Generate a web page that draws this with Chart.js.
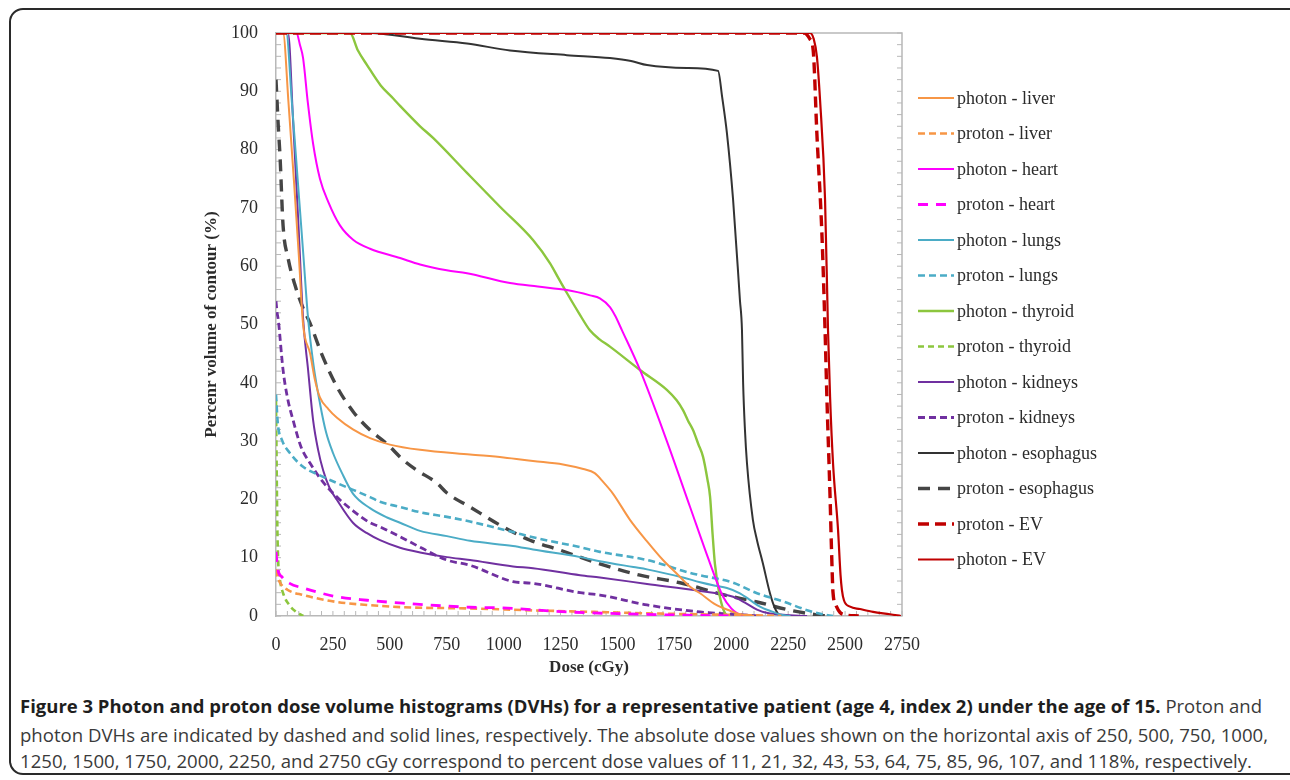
<!DOCTYPE html>
<html>
<head>
<meta charset="utf-8">
<script src="https://cdn.jsdelivr.net/npm/chart.js@4.4.1/dist/chart.umd.min.js"></script>
<style>
body { margin: 0; background: #fff; width: 1290px; height: 780px; overflow: hidden; position: relative; }
#frame { position: absolute; left: 9px; top: 8px; width: 1310px; height: 763px; border: 2px solid #2a2a2a; border-radius: 14px; }
#wrap { position: absolute; left: 0; top: 0; width: 1290px; height: 690px; }
.cap { position: absolute; left: 20px; font-family: 'Open Sans'; font-size: 17.5px; line-height: 24px; color: #3a3a3a; white-space: nowrap; transform-origin: 0 50%; }
.cap b { color: #1e1e1e; }
</style>
</head>
<body>
<div id="frame"></div>
<div id="wrap"><canvas id="dvh" width="1290" height="690"></canvas></div>
<div class="cap" style="top:694px" data-w="1242"><b>Figure 3 Photon and proton dose volume histograms (DVHs) for a representative patient (age 4, index 2) under the age of 15.</b> Proton and</div>
<div class="cap" style="top:723px" data-w="1248">photon DVHs are indicated by dashed and solid lines, respectively. The absolute dose values shown on the horizontal axis of 250, 500, 750, 1000,</div>
<div class="cap" style="top:749px" data-w="1232">1250, 1500, 1750, 2000, 2250, and 2750 cGy correspond to percent dose values of 11, 21, 32, 43, 53, 64, 75, 85, 96, 107, and 118%, respectively.</div>
<script>
// [dose cGy, percent volume]
const photonLiver = [[0,100],[31,100],[55,88],[80,74],[100,62],[119,50],[150,45],[171,40.5],[193,37.5],[230,35.5],[268,34],[338,32],[413,30.5],[500,29.4],[633,28.5],[852,27.7],[1000,27.2],[1129,26.6],[1261,26],[1350,25.2],[1400,24.5],[1437,23],[1480,21],[1555,16.5],[1630,12.8],[1700,9.6],[1760,7.3],[1819,5],[1863,3.9],[1930,2],[1995,0.9],[2040,0.3],[2100,0]];
const protonLiver = [[0,8],[5,7],[18,5.7],[50,4.5],[119,3.6],[268,2.4],[400,1.9],[558,1.5],[852,1.3],[1100,1],[1400,0.7],[1700,0.4],[2000,0.2],[2220,0]];
const photonHeart = [[0,100],[90,100],[105,98],[119,95.7],[140,88],[163,81],[193,75],[230,71],[281,67],[340,64.5],[413,63],[545,61.4],[633,60.3],[750,59.3],[839,58.8],[1028,57.1],[1150,56.5],[1278,55.9],[1380,55],[1423,54.5],[1467,53],[1490,51.5],[1520,49],[1599,42.2],[1717,30],[1819,18.7],[1907,9],[1964,3.3],[2000,1.3],[2025,0.5],[2060,0]];
const protonHeart = [[0,11],[8,8],[26,6.7],[60,5.6],[119,4.8],[268,3.3],[400,2.7],[558,2.2],[852,1.5],[984,1.4],[1278,0.7],[1500,0.4],[1717,0.2],[2008,0]];
const photonLungs = [[0,100],[45,100],[70,88],[95,75],[120,62],[141,51],[165,43],[193,36.5],[220,31.5],[250,28],[290,24.5],[338,21],[413,18.5],[488,16.9],[545,16],[633,14.6],[751,13.7],[852,12.9],[1041,12],[1129,11.4],[1336,10.1],[1423,9.4],[1570,8.4],[1630,8],[1788,6.6],[1863,5.8],[1930,5.2],[1981,4.8],[2038,3.9],[2080,2.8],[2126,1.6],[2183,0.7],[2220,0.2],[2260,0]];
const protonLungs = [[0,38],[8,33],[26,30.2],[60,28],[119,25.6],[200,24],[268,22.8],[413,20.4],[457,19.6],[545,18.7],[633,17.8],[751,17],[852,16.2],[1041,14.4],[1129,13.5],[1336,11.8],[1423,11],[1630,9.6],[1819,7.4],[1863,7],[2008,5.7],[2113,3.9],[2227,2.5],[2333,1],[2400,0.3],[2447,0]];
const photonThyroid = [[0,100],[325,100],[360,97],[400,94.5],[460,91],[514,88.8],[545,87.5],[633,84],[690,82],[839,76],[984,70.2],[1129,64.5],[1204,60.5],[1240,58],[1278,55.4],[1330,52],[1379,49],[1420,47.5],[1467,46.2],[1599,42.2],[1717,38.8],[1760,37],[1788,35.3],[1810,33.5],[1832,31.9],[1855,29.5],[1876,27.3],[1895,23.5],[1907,20.4],[1918,14],[1928,9],[1950,3.3],[1972,0.5],[1990,0]];
const protonThyroid = [[0,37],[3,25],[6,15],[10,9],[18,6],[35,3.5],[60,1.8],[85,0.8],[105,0.3],[120,0]];
const photonKidneys = [[0,100],[53,100],[75,85],[100,66],[119,51],[141,42.2],[163,33.6],[185,28.5],[207,25],[235,22],[268,19.9],[338,16],[400,14.2],[457,13],[545,11.7],[633,10.9],[751,10.1],[852,9.6],[1041,8.5],[1129,8.2],[1336,7],[1423,6.6],[1630,5.5],[1863,4.3],[2008,3.3],[2060,2.3],[2113,1.1],[2160,0.5],[2227,0.2],[2333,0]];
const protonKidneys = [[0,54],[5,52],[10,50.8],[31,42.2],[50,37.5],[75,33.6],[110,29],[150,26.2],[200,23.3],[268,20.4],[340,18],[413,16],[457,15.3],[545,13.6],[633,11.8],[751,9.6],[852,8.7],[1041,5.9],[1129,5.6],[1336,4],[1423,3.6],[1630,1.9],[1863,0.7],[2008,0.3],[2126,0]];
const photonEsophagus = [[0,100],[420,100],[480,99.8],[545,99.5],[633,99],[839,98.2],[1028,97],[1278,96.2],[1467,95.7],[1560,95.2],[1630,94.5],[1805,94],[1942,93.5],[1960,89],[1981,82.8],[2008,71.4],[2038,54.2],[2047,49],[2052,40],[2060,32],[2069,26.2],[2095,16.5],[2113,13],[2139,9],[2170,3.9],[2190,1.5],[2210,0.2],[2230,0]];
const protonEsophagus = [[0,92],[5,88],[10,84],[18,78.6],[31,67],[53,61.4],[83,56.8],[119,52.8],[150,50.2],[200,45],[268,39.3],[340,35],[413,31.9],[488,29.5],[558,26.8],[619,25],[707,22.8],[751,21.1],[852,18.7],[997,15.3],[1116,13],[1248,11.3],[1410,9.1],[1599,7],[1775,5.7],[1863,4.8],[1950,3.8],[2113,2.4],[2258,1],[2376,0.2],[2420,0]];
const protonEV = [[0,100],[2320,100],[2345,99],[2360,97],[2376,82.8],[2398,65.7],[2412,49],[2420,37.6],[2434,20.4],[2440,11.8],[2447,4],[2460,1.8],[2478,0.6],[2500,0.2],[2560,0]];
const photonEV = [[0,100],[2345,100],[2362,99],[2376,96],[2390,88.5],[2412,71.4],[2425,49],[2434,37.6],[2447,26.2],[2469,14.8],[2480,7],[2486,4.5],[2495,2.7],[2522,1.6],[2565,1.2],[2623,0.7],[2697,0.3],[2745,0]];

const doseTicks = [0, 250, 500, 750, 1000, 1250, 1500, 1750, 2000, 2250, 2500, 2750];
const volumeTicks = [0, 10, 20, 30, 40, 50, 60, 70, 80, 90, 100];

const serif = "'Liberation Serif', 'Times New Roman', serif";
const axisColor = '#b8b8b8';
const textColor = '#2b2b2b';

function serie(label, points, color, dash, width, order) {
    return {
        label: label,
        data: points.map(p => ({ x: p[0], y: p[1] })),
        borderColor: color,
        borderDash: dash,
        borderWidth: width,
        cubicInterpolationMode: 'monotone',
        pointRadius: 0,
        fill: false,
        order: order
    };
}

const datasets = [
    serie('photon - liver', photonLiver, '#F79646', [], 2, 2),
    serie('proton - liver', protonLiver, '#F79646', [7, 4], 2.6, 2),
    serie('photon - heart', photonHeart, '#FF00FF', [], 2, 2),
    serie('proton - heart', protonHeart, '#FF00FF', [10, 8], 2.8, 1),
    serie('photon - lungs', photonLungs, '#4BACC6', [], 2, 2),
    serie('proton - lungs', protonLungs, '#4BACC6', [7, 4], 2.6, 2),
    serie('photon - thyroid', photonThyroid, '#8CC63E', [], 2.4, 2),
    serie('proton - thyroid', protonThyroid, '#8CC63E', [6, 4], 2.6, 2),
    serie('photon - kidneys', photonKidneys, '#7030A0', [], 2, 2),
    serie('proton - kidneys', protonKidneys, '#7030A0', [7, 4], 2.8, 2),
    serie('photon - esophagus', photonEsophagus, '#333333', [], 2, 2),
    serie('proton - esophagus', protonEsophagus, '#454545', [12, 8], 3.4, 2),
    serie('proton - EV', protonEV, '#C00000', [11, 6], 3.4, 0),
    serie('photon - EV', photonEV, '#C00000', [], 2.2, 0)
];

// cadre haut/droite + petites graduations vers l'intérieur
const cadre = {
    id: 'cadre',
    beforeDatasetsDraw(chart) {
        const { ctx, chartArea: a, scales: { x, y } } = chart;
        ctx.save();
        ctx.strokeStyle = axisColor;
        ctx.lineWidth = 1.5;
        ctx.beginPath();
        ctx.moveTo(a.left, a.top);
        ctx.lineTo(a.right, a.top);
        ctx.lineTo(a.right, a.bottom);
        ctx.stroke();
        ctx.lineWidth = 1;
        ctx.beginPath();
        for (let v = 0; v <= x.max; v += 50) {
            const px = x.getPixelForValue(v);
            ctx.moveTo(px, a.bottom);
            ctx.lineTo(px, a.bottom - 5);
        }
        for (let v = 0; v <= y.max; v += 2) {
            const py = y.getPixelForValue(v);
            ctx.moveTo(a.left, py);
            ctx.lineTo(a.left + 5, py);
            ctx.moveTo(a.right, py);
            ctx.lineTo(a.right - 5, py);
        }
        ctx.stroke();
        ctx.restore();
    },
    afterDraw(chart) {
        const ctx = chart.ctx;
        ctx.save();
        ctx.font = '18px ' + serif;
        ctx.textBaseline = 'middle';
        chart.data.datasets.forEach((ds, i) => {
            const ly = 98 + i * 35.5;
            ctx.strokeStyle = ds.borderColor;
            ctx.lineWidth = ds.borderWidth;
            ctx.setLineDash(ds.borderDash);
            ctx.beginPath();
            ctx.moveTo(918, ly);
            ctx.lineTo(954, ly);
            ctx.stroke();
            ctx.fillStyle = textColor;
            ctx.fillText(ds.label, 957, ly + 1);
        });
        ctx.restore();
    }
};

new Chart(document.getElementById('dvh'), {
    type: 'line',
    data: { datasets: datasets },
    options: {
        responsive: false,
        animation: false,
        layout: { padding: { left: 195, right: 388, top: 33, bottom: 0 } },
        plugins: { legend: { display: false }, tooltip: { enabled: false } },
        scales: {
            x: {
                type: 'linear', min: 0, max: 2750,
                afterBuildTicks: s => { s.ticks = doseTicks.map(v => ({ value: v })); },
                afterFit: s => { s.height = 74; },
                ticks: { padding: 18, color: textColor, font: { family: serif, size: 18 }, callback: v => String(v) },
                grid: { display: false, drawTicks: false },
                border: { color: axisColor, width: 1.5 },
                title: { display: true, text: 'Dose (cGy)', color: textColor, font: { family: serif, size: 17, weight: 'bold' }, padding: { top: 0, bottom: 12 } }
            },
            y: {
                min: 0, max: 100,
                afterBuildTicks: s => { s.ticks = volumeTicks.map(v => ({ value: v })); },
                afterFit: s => { s.width = 81; },
                ticks: { padding: 18, color: textColor, font: { family: serif, size: 18 }, callback: v => String(v) },
                grid: { display: false, drawTicks: false },
                border: { color: axisColor, width: 1.5 },
                title: { display: true, text: 'Percenr volume of contour (%)', color: textColor, font: { family: serif, size: 17, weight: 'bold' }, padding: { top: 6, bottom: 0 } }
            }
        }
    },
    plugins: [cadre]
});

document.querySelectorAll('.cap').forEach(el => {
    const w = el.getBoundingClientRect().width;
    el.style.transform = 'scaleX(' + (Number(el.dataset.w) / w) + ')';
});
</script>
</body>
</html>
